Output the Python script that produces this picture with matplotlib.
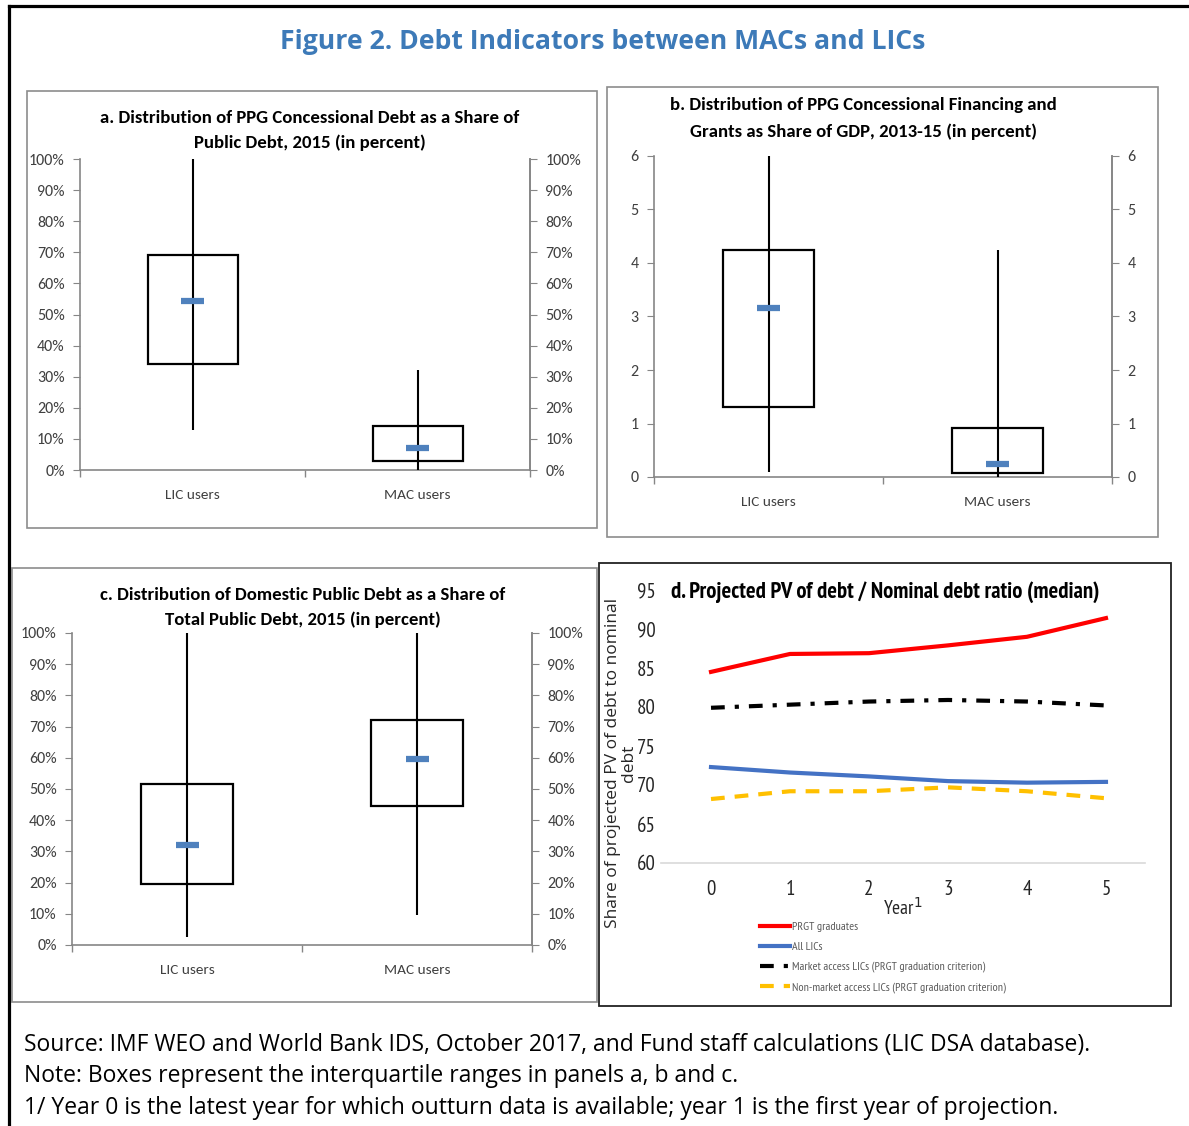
import numpy as np
import matplotlib
matplotlib.use("Agg")
import matplotlib.pyplot as plt
from matplotlib.patches import Rectangle
from matplotlib.lines import Line2D
from matplotlib.ticker import FuncFormatter

W, H = 1189, 1126
CALIBRI = ['Carlito', 'DejaVu Sans']
NARROW = ['PT Sans Narrow', 'Roboto Condensed', 'Carlito', 'DejaVu Sans']
PLAIN = ['Open Sans', 'DejaVu Sans']

cats = ["LIC users", "MAC users"]

# panel a: PPG concessional debt share of public debt (percent)
a_lo = [13, 0]
a_q1 = [34, 3]
a_med = [54.5, 7]
a_q3 = [69, 14]
a_hi = [100, 32]

# panel b: concessional financing and grants, % of GDP
b_lo = [0.1, 0.0]
b_q1 = [1.3, 0.07]
b_med = [3.15, 0.25]
b_q3 = [4.25, 0.92]
b_hi = [6.0, 4.25]

# panel c: domestic public debt share (percent)
c_lo = [2.5, 9.5]
c_q1 = [19.5, 44.5]
c_med = [32, 59.5]
c_q3 = [51.5, 72]
c_hi = [100, 100]

# panel d
years = [0, 1, 2, 3, 4, 5]
prgt_grad = [84.5, 86.8, 86.9, 87.9, 89.0, 91.4]
all_lics = [72.3, 71.6, 71.1, 70.5, 70.3, 70.4]
market_access = [79.9, 80.3, 80.7, 80.9, 80.7, 80.2]
non_market = [68.2, 69.2, 69.2, 69.7, 69.2, 68.3]


def rect(x0, y0, x1, y1):
    return [x0 / W, 1 - y1 / H, (x1 - x0) / W, (y1 - y0) / H]


def frame(x0, y0, x1, y1, color, lw):
    fig.patches.append(Rectangle((x0 / W, 1 - y1 / H), (x1 - x0) / W, (y1 - y0) / H,
                                 transform=fig.transFigure, fill=False,
                                 edgecolor=color, lw=lw))


def style_y(ax, ticks, fmt):
    ax.set_yticks(ticks)
    ax.yaxis.set_major_formatter(FuncFormatter(fmt))
    ax.tick_params(axis='y', length=5, color='#868686', labelsize=11.5, labelcolor='#404040', pad=6)
    for lab in ax.get_yticklabels():
        lab.set_family(CALIBRI)


def box_panel(pos, lo, q1, med, q3, hi, top, step, fmt):
    ax = fig.add_axes(rect(*pos))
    for i in range(2):
        ax.add_patch(Rectangle((i - 0.2, q1[i]), 0.4, q3[i] - q1[i], facecolor='white',
                               edgecolor='black', lw=1.6, zorder=2))
        ax.vlines(i, lo[i], hi[i], color='black', lw=1.5, zorder=3)
        ax.hlines(med[i], i - 0.05, i + 0.05, color='#4f81bd', lw=4.5, zorder=4)
    ax.set_xlim(-0.5, 1.5)
    ax.set_ylim(0, top)
    ticks = np.arange(0, top + step / 2, step)
    ax.set_xticks([-0.5, 0.5, 1.5])
    ax.set_xticklabels([])
    ax.set_xticks([0, 1], minor=True)
    ax.set_xticklabels(cats, minor=True, fontsize=11, color='#404040', family=CALIBRI)
    ax.tick_params(axis='x', which='major', length=5, color='#868686', width=1)
    ax.tick_params(axis='x', which='minor', length=0, pad=14)
    style_y(ax, ticks, fmt)
    ax.spines['top'].set_visible(False)
    for s in ['left', 'right', 'bottom']:
        ax.spines[s].set_color('#868686')
        ax.spines[s].set_linewidth(1.2)
    ax2 = ax.twinx()
    ax2.set_ylim(0, top)
    style_y(ax2, ticks, fmt)
    for s in ['top', 'left', 'bottom']:
        ax2.spines[s].set_visible(False)
    ax2.spines['right'].set_color('#868686')
    ax2.spines['right'].set_linewidth(1.2)
    return ax


pct = lambda v, p: "%d%%" % round(v)
num = lambda v, p: "%d" % round(v)

fig = plt.figure(figsize=(W / 100, H / 100), dpi=100)

# outer frame (left and top only) and panel frames
fig.add_artist(Line2D([8.5 / W, 8.5 / W], [0, 1 - 6 / H], transform=fig.transFigure, color='black', lw=2.3))
fig.add_artist(Line2D([8.5 / W, 1], [1 - 6 / H, 1 - 6 / H], transform=fig.transFigure, color='black', lw=2.3))
frame(27, 91, 597, 528, '#8c8c8c', 1.2)
frame(607, 87, 1158, 537, '#8c8c8c', 1.2)
frame(12, 568, 597, 1002, '#8c8c8c', 1.2)
frame(599, 563, 1171, 1006, '#222222', 1.3)

fig.text(603 / W, 1 - 42 / H, "Figure 2. Debt Indicators between MACs and LICs", ha='center', va='center',
         fontsize=19.2, fontweight='bold', color='#3d7ab8', family=PLAIN)

box_panel((80, 159, 530, 470), a_lo, a_q1, a_med, a_q3, a_hi, 100, 10, pct)
fig.text(310 / W, 1 - 130.5 / H, "a. Distribution of PPG Concessional Debt as a Share of\nPublic Debt, 2015 (in percent)",
         ha='center', va='center', fontsize=13.5, fontweight='bold', family=CALIBRI, linespacing=1.65)

box_panel((654, 156, 1112, 477), b_lo, b_q1, b_med, b_q3, b_hi, 6, 1, num)
fig.text(863 / W, 1 - 118.5 / H, "b. Distribution of PPG Concessional Financing and\nGrants as Share of GDP, 2013-15 (in percent)",
         ha='center', va='center', fontsize=13.5, fontweight='bold', family=CALIBRI, linespacing=1.75)

box_panel((72, 633, 532, 945), c_lo, c_q1, c_med, c_q3, c_hi, 100, 10, pct)
fig.text(303 / W, 1 - 607.5 / H, "c. Distribution of Domestic Public Debt as a Share of\nTotal Public Debt, 2015 (in percent)",
         ha='center', va='center', fontsize=13.5, fontweight='bold', family=CALIBRI, linespacing=1.65)

# panel d
axd = fig.add_axes(rect(661, 590, 1145, 863))
axd.plot(years, prgt_grad, color='#ff0000', lw=3, label='PRGT graduates')
axd.plot(years, all_lics, color='#4472c4', lw=3, label='All LICs')
axd.plot(years, market_access, color='black', lw=3, linestyle=(0, (3.3, 2.4, 1, 2.4)),
         label='Market access LICs (PRGT graduation criterion)')
axd.plot(years, non_market, color='#ffc000', lw=3, linestyle=(0, (3.3, 2.4)),
         label='Non-market access LICs (PRGT graduation criterion)')
axd.set_xlim(-0.633, 5.494)
axd.set_ylim(60, 95)
axd.set_yticks(np.arange(60, 96, 5))
axd.set_xticks(years)
axd.tick_params(length=0, labelsize=15, labelcolor='#262626')
axd.tick_params(axis='x', pad=12)
axd.tick_params(axis='y', pad=4)
for lab in axd.get_xticklabels() + axd.get_yticklabels():
    lab.set_family(NARROW)
for s in ['top', 'left', 'right']:
    axd.spines[s].set_visible(False)
axd.spines['bottom'].set_color('#d9d9d9')
axd.spines['bottom'].set_linewidth(1.2)
axd.set_xlabel("Year$^1$", fontsize=14, family=NARROW, color='#262626', labelpad=-1)
fig.text(671 / W, 1 - 592 / H, "d. Projected PV of debt / Nominal debt ratio (median)", ha='left', va='center',
         fontsize=16.3, fontweight='bold', family=NARROW)
fig.text(621 / W, 1 - 763 / H, "Share of projected PV of debt to nominal\ndebt", rotation=90, ha='center',
         va='center', multialignment='center', fontsize=12.5, family=PLAIN, color='#262626', linespacing=1.0)
leg = fig.legend(loc='upper left', bbox_to_anchor=(760 / W, 1 - 922 / H), frameon=False, fontsize=8.6,
                 handlelength=2.5, handletextpad=0.15, labelspacing=0.78, borderpad=0, borderaxespad=0)
for t in leg.get_texts():
    t.set_color('#595959')
    t.set_family(NARROW)

notes = ["Source: IMF WEO and World Bank IDS, October 2017, and Fund staff calculations (LIC DSA database).",
         "Note: Boxes represent the interquartile ranges in panels a, b and c.",
         "1/ Year 0 is the latest year for which outturn data is available; year 1 is the first year of projection."]
for k, line in enumerate(notes):
    fig.text(24 / W, 1 - (1045 + 31.5 * k) / H, line, ha='left', va='center', fontsize=16.5,
             family=PLAIN, color='black')

fig.savefig("out.png", dpi=100)
